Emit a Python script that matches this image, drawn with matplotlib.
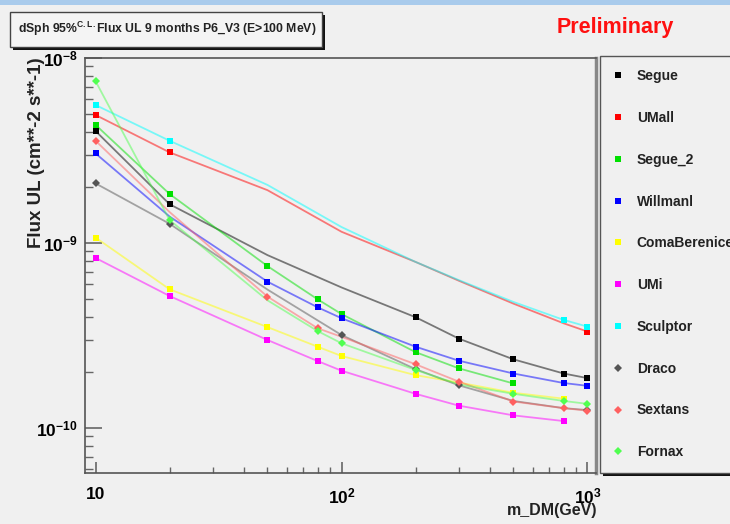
import matplotlib
matplotlib.use('Agg')
import matplotlib.pyplot as plt
from matplotlib.patches import Rectangle
from matplotlib.lines import Line2D

plt.rcParams['font.family'] = ['Liberation Sans', 'DejaVu Sans']
plt.rcParams['font.weight'] = 'bold'
plt.rcParams['mathtext.fontset'] = 'custom'
plt.rcParams['mathtext.rm'] = 'Liberation Sans:bold'
plt.rcParams['mathtext.bf'] = 'Liberation Sans:bold'
plt.rcParams['mathtext.it'] = 'Liberation Sans:bold:italic'
plt.rcParams['mathtext.sf'] = 'Liberation Sans:bold'
plt.rcParams['mathtext.default'] = 'rm'

# ---------------- data ----------------
segue_mass = [10, 20, 50, 100, 200, 300, 500, 800, 1000]
segue_flux = [4.03e-9, 1.62e-9, 8.6e-10, 5.75e-10, 3.97e-10, 3.04e-10, 2.35e-10, 1.97e-10, 1.86e-10]
segue_marked = [0, 1, 4, 5, 6, 7, 8]

umall_mass = [10, 20, 50, 100, 200, 300, 500, 800, 1000]
umall_flux = [4.92e-9, 3.09e-9, 1.93e-9, 1.15e-9, 7.9e-10, 6.25e-10, 4.7e-10, 3.68e-10, 3.32e-10]
umall_marked = [0, 1, 8]

segue2_mass = [10, 20, 50, 80, 100, 200, 300, 500]
segue2_flux = [4.35e-9, 1.84e-9, 7.5e-10, 4.96e-10, 4.13e-10, 2.57e-10, 2.10e-10, 1.74e-10]
segue2_marked = [0, 1, 2, 3, 4, 5, 6, 7]

willman_mass = [10, 20, 50, 80, 100, 200, 300, 500, 800, 1000]
willman_flux = [3.05e-9, 1.39e-9, 6.18e-10, 4.49e-10, 3.92e-10, 2.75e-10, 2.31e-10, 1.97e-10, 1.75e-10, 1.69e-10]
willman_marked = [0, 2, 3, 4, 5, 6, 7, 8, 9]

coma_mass = [10, 20, 50, 80, 100, 200, 300, 500, 800]
coma_flux = [1.07e-9, 5.62e-10, 3.51e-10, 2.75e-10, 2.45e-10, 1.93e-10, 1.76e-10, 1.55e-10, 1.44e-10]
coma_marked = [0, 1, 2, 3, 4, 5, 7, 8]

umi_mass = [10, 20, 50, 80, 100, 200, 300, 500, 800]
umi_flux = [8.3e-10, 5.17e-10, 2.99e-10, 2.30e-10, 2.04e-10, 1.53e-10, 1.32e-10, 1.17e-10, 1.09e-10]
umi_marked = [0, 1, 2, 3, 4, 5, 6, 7, 8]

sculptor_mass = [10, 20, 50, 100, 200, 300, 500, 800, 1000]
sculptor_flux = [5.57e-9, 3.57e-9, 2.06e-9, 1.22e-9, 7.9e-10, 6.3e-10, 4.8e-10, 3.84e-10, 3.53e-10]
sculptor_marked = [0, 1, 7, 8]

draco_mass = [10, 20, 50, 100, 200, 300, 500, 800, 1000]
draco_flux = [2.1e-9, 1.27e-9, 5.6e-10, 3.18e-10, 2.08e-10, 1.70e-10, 1.40e-10, 1.28e-10, 1.25e-10]
draco_marked = [0, 1, 3, 4, 5, 8]

sextans_mass = [10, 20, 50, 80, 100, 200, 300, 500, 800, 1000]
sextans_flux = [3.57e-9, 1.47e-9, 5.13e-10, 3.46e-10, 3.11e-10, 2.21e-10, 1.78e-10, 1.39e-10, 1.28e-10, 1.24e-10]
sextans_marked = [0, 2, 3, 5, 6, 7, 8, 9]

fornax_mass = [10, 20, 50, 80, 100, 200, 300, 500, 800, 1000]
fornax_flux = [7.5e-9, 1.33e-9, 4.9e-10, 3.34e-10, 2.87e-10, 2.06e-10, 1.72e-10, 1.53e-10, 1.40e-10, 1.35e-10]
fornax_marked = [0, 1, 3, 4, 5, 7, 8, 9]

series_names = ["Segue", "UMall", "Segue_2", "Willmanl", "ComaBerenices",
                "UMi", "Sculptor", "Draco", "Sextans", "Fornax"]
series_data = [
    (segue_mass, segue_flux, segue_marked),
    (umall_mass, umall_flux, umall_marked),
    (segue2_mass, segue2_flux, segue2_marked),
    (willman_mass, willman_flux, willman_marked),
    (coma_mass, coma_flux, coma_marked),
    (umi_mass, umi_flux, umi_marked),
    (sculptor_mass, sculptor_flux, sculptor_marked),
    (draco_mass, draco_flux, draco_marked),
    (sextans_mass, sextans_flux, sextans_marked),
    (fornax_mass, fornax_flux, fornax_marked),
]

x_ticks = [10, 100, 1000]
x_tick_labels = ["10", r"$10^{2}$", r"$10^{3}$"]
y_ticks = [1e-10, 1e-9, 1e-8]
y_tick_labels = [r"$10^{-10}$", r"$10^{-9}$", r"$10^{-8}$"]

# ---------------- styles ----------------
styles = {
    "Segue": ("#000000", "s"),
    "UMall": ("#ff0000", "s"),
    "Segue_2": ("#00e000", "s"),
    "Willmanl": ("#0000ff", "s"),
    "ComaBerenices": ("#ffff00", "s"),
    "UMi": ("#ff00ff", "s"),
    "Sculptor": ("#00ffff", "s"),
    "Draco": ("#555555", "D"),
    "Sextans": ("#ff6060", "D"),
    "Fornax": ("#50ff50", "D"),
}

W, H = 730, 524
BG = "#f0f0f0"
fig = plt.figure(figsize=(W / 100, H / 100), dpi=100, facecolor=BG)


def fx(px):
    return px / W


def fy(py):
    return 1 - py / H


# top blue strip
fig.patches.append(Rectangle((0, fy(5)), 1, 5 / H, transform=fig.transFigure,
                             facecolor="#a9cbec", edgecolor="none", zorder=0))

ax = fig.add_axes([fx(85), fy(473), 511 / W, 415 / H], facecolor=BG)
ax.set_xscale("log")
ax.set_yscale("log")

for name, (xm, yf, marked) in zip(series_names, series_data):
    col, mk = styles[name]
    ax.plot(xm, yf, color=col, lw=1.3, alpha=0.5, zorder=2, solid_joinstyle="round")
    ax.plot([xm[i] for i in marked], [yf[i] for i in marked], linestyle="none",
            marker=mk, color=col, markersize=5 if mk == "s" else 4.5,
            markeredgewidth=0, zorder=3)

ax.set_xlim(9.06, 1083)
ax.set_ylim(5.71e-11, 1.0e-8)

ax.set_xticks(x_ticks)
ax.set_xticklabels(x_tick_labels)
ax.set_yticks(y_ticks)
ax.set_yticklabels(y_tick_labels)
ax.tick_params(axis="both", which="both", direction="in", color="#666666",
               top=False, right=False, labelsize=12.5)
ax.tick_params(axis="y", which="major", length=12, width=1.2, pad=5)
ax.tick_params(axis="y", which="minor", length=6, width=1.0)
ax.tick_params(axis="x", which="major", length=8, width=1.2, pad=10)
ax.tick_params(axis="x", which="minor", length=4, width=1.0)
for lab in ax.get_xticklabels() + ax.get_yticklabels():
    lab.set_fontweight("bold")
for sp in ax.spines.values():
    sp.set_color("#555555")
    sp.set_linewidth(1.2)
ax.spines["right"].set_color("#888888")
ax.spines["right"].set_linewidth(2.5)

# axis titles (ROOT style: right / top aligned)
fig.text(fx(597), fy(510), "m_DM(GeV)", ha="right", va="center",
         fontsize=11.5, fontweight="bold", color="#222222")
fig.text(fx(37), fy(57), "Flux UL (cm**-2 s**-1)", ha="center", va="top",
         rotation=90, fontsize=13.5, fontweight="bold", color="#222222")

# title box with shadow
fig.patches.append(Rectangle((fx(13), fy(50)), 312 / W, 35 / H, transform=fig.transFigure,
                             facecolor="#111111", edgecolor="none", zorder=1))
fig.patches.append(Rectangle((fx(10), fy(47)), 312 / W, 35 / H, transform=fig.transFigure,
                             facecolor="#f4f4f4", edgecolor="#444444", lw=1, zorder=2))
fig.text(fx(167), fy(29), r"dSph 95%$^{\mathregular{C.L.}}$Flux UL 9 months P6_V3 (E>100 MeV)",
         ha="center", va="center", fontsize=8.8, fontweight="bold", color="#222222", zorder=3)

fig.text(fx(615), fy(27), "Preliminary", ha="center", va="center",
         fontsize=15.5, fontweight="bold", color="#ff1010")

# legend box with shadow
fig.patches.append(Rectangle((fx(603), fy(476)), 140 / W, 417 / H, transform=fig.transFigure,
                             facecolor="#111111", edgecolor="none", zorder=1))
fig.patches.append(Rectangle((fx(600), fy(473)), 140 / W, 417 / H, transform=fig.transFigure,
                             facecolor=BG, edgecolor="#555555", lw=1, zorder=2))

handles = [Line2D([], [], linestyle="none", marker=styles[n][1], color=styles[n][0],
                  markersize=4.5 if styles[n][1] == "s" else 4, markeredgewidth=0)
           for n in series_names]
leg = fig.legend(handles, series_names, loc="upper left",
                 bbox_to_anchor=(fx(600), fy(56)), bbox_transform=fig.transFigure,
                 frameon=False, fontsize=10, borderpad=0.95, handlelength=0.7,
                 handletextpad=1.0, labelspacing=2.0, borderaxespad=0)
for t in leg.get_texts():
    t.set_fontweight("bold")
    t.set_color("#222222")
leg.set_zorder(5)

fig.savefig("out.png", dpi=100, facecolor=BG)
